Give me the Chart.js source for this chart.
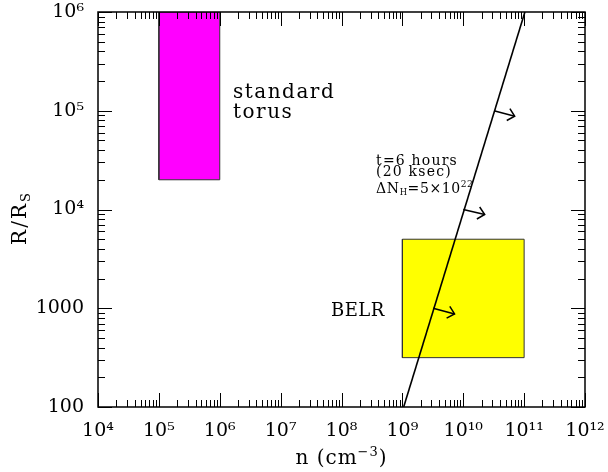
<!DOCTYPE html>
<html><head><meta charset="utf-8">
<script src="https://cdn.jsdelivr.net/npm/chart.js@4/dist/chart.umd.min.js"></script>
<style>html,body{margin:0;padding:0;background:#fff}#wrap{width:608px;height:472px;position:relative}</style>
</head><body><div id="wrap"><canvas id="c"></canvas></div>
<script>
// ---- data ----
const torusN = [1e5, 1e6, 1e6, 1e5, 1e5];
const torusR = [2e4, 2e4, 1e6, 1e6, 2e4];
const belrN = [1e9, 1e11, 1e11, 1e9, 1e9];
const belrR = [316, 316, 5000, 5000, 316];
const limitN = [1.05e9, 1.03e11];
const limitR = [100, 1e6];
const arrowStartN = [3.2e10, 1e10, 3.2e9];
const arrowStartR = [1e5, 1e4, 1e3];
const arrowEndN = [7e10, 2.25e10, 7.2e9];
const arrowEndR = [8.8e4, 8.9e3, 875];
const xTickValues = [1e4, 1e5, 1e6, 1e7, 1e8, 1e9, 1e10, 1e11, 1e12];
const xTickLabels = ['10⁴', '10⁵', '10⁶', '10⁷', '10⁸', '10⁹', '10¹⁰', '10¹¹', '10¹²'];
const yTickValues = [100, 1000, 1e4, 1e5, 1e6];
const yTickLabels = ['100', '1000', '10⁴', '10⁵', '10⁶'];

const FONT = '"DejaVu Serif", "Liberation Serif", serif';

function pts(xs, ys) { return xs.map((x, i) => ({x: x, y: ys[i]})); }

const datasets = [];
datasets.push({data: pts(limitN, limitR), showLine: true, borderColor: '#000', borderWidth: 1.6, pointRadius: 0, fill: false, order: 1});
for (let i = 0; i < arrowStartN.length; i++) {
  datasets.push({data: pts([arrowStartN[i], arrowEndN[i]], [arrowStartR[i], arrowEndR[i]]), showLine: true,
    borderColor: '#000', borderWidth: 1.5, pointRadius: 0, fill: false, order: 1, isArrow: true});
}
datasets.push({data: pts(belrN, belrR), showLine: true, borderColor: '#333', borderWidth: 1, backgroundColor: '#ffff00', pointRadius: 0, fill: 'shape', order: 5});
datasets.push({data: pts(torusN, torusR), showLine: true, borderColor: '#333', borderWidth: 1, backgroundColor: '#ff00ff', pointRadius: 0, fill: 'shape', order: 5});

function drawRich(ctx, x, y, parts, base, spacing) {
  let cx = x;
  for (const p of parts) {
    ctx.font = (base * p[1]) + 'px ' + FONT;
    ctx.letterSpacing = (spacing || 0) + 'px';
    ctx.fillText(p[0], cx, y + (p[2] || 0));
    cx += ctx.measureText(p[0]).width;
  }
  return cx - x;
}

const annotations = [
  {n: 1.65e6, r: 1.35e5, size: 20, sp: 1.5, parts: [['standard', 1]]},
  {n: 1.65e6, r: 8.45e4, size: 20, sp: 1.5, parts: [['torus', 1]]},
  {n: 6.7e7, r: 836, size: 18, sp: 0.5, parts: [['BELR', 1]]},
  {n: 3.7e8, r: 2.82e4, size: 14, sp: 1.2, parts: [['t=6 hours', 1]]},
  {n: 3.7e8, r: 2.18e4, size: 14, sp: 1.2, parts: [['(20 ksec)', 1]]},
  {n: 3.7e8, r: 1.47e4, size: 14, sp: 0.6, parts: [['ΔN', 1], ['H', 0.6, 2], ['=5×10', 1], ['22', 0.65, -6]]}
];

const framePlugin = {
  id: 'frame',
  afterDatasetsDraw(chart) {
    const ctx = chart.ctx, a = chart.chartArea, xs = chart.scales.x, ys = chart.scales.y;
    ctx.save();
    // arrowheads
    chart.data.datasets.forEach((ds, i) => {
      if (!ds.isArrow) return;
      const m = chart.getDatasetMeta(i);
      const p0 = m.data[0], p1 = m.data[1];
      const ang = Math.atan2(p1.y - p0.y, p1.x - p0.x);
      ctx.strokeStyle = '#000'; ctx.lineWidth = 1.5;
      ctx.beginPath();
      ctx.moveTo(p1.x - 9 * Math.cos(ang - 0.75), p1.y - 9 * Math.sin(ang - 0.75));
      ctx.lineTo(p1.x, p1.y);
      ctx.lineTo(p1.x - 9 * Math.cos(ang + 0.75), p1.y - 9 * Math.sin(ang + 0.75));
      ctx.stroke();
    });
    // frame
    ctx.strokeStyle = '#000'; ctx.lineWidth = 1.5;
    ctx.strokeRect(a.left, a.top, a.right - a.left, a.bottom - a.top);
    // tick marks on all four sides
    ctx.lineWidth = 1;
    ctx.beginPath();
    for (let d = 4; d <= 12; d++) {
      for (let m = 1; m <= 9; m++) {
        const v = m * Math.pow(10, d);
        if (v > 1e12 * 1.0001) break;
        const px = Math.round(xs.getPixelForValue(v)) + 0.5;
        const len = m === 1 ? 14 : 7;
        ctx.moveTo(px, a.bottom); ctx.lineTo(px, a.bottom - len);
        ctx.moveTo(px, a.top); ctx.lineTo(px, a.top + len);
      }
    }
    for (let d = 2; d <= 6; d++) {
      for (let m = 1; m <= 9; m++) {
        const v = m * Math.pow(10, d);
        if (v > 1e6 * 1.0001) break;
        const py = Math.round(ys.getPixelForValue(v)) + 0.5;
        const len = m === 1 ? 14 : 7;
        ctx.moveTo(a.left, py); ctx.lineTo(a.left + len, py);
        ctx.moveTo(a.right, py); ctx.lineTo(a.right - len, py);
      }
    }
    ctx.stroke();
    // annotations
    ctx.fillStyle = '#000';
    ctx.textBaseline = 'alphabetic';
    ctx.textAlign = 'left';
    for (const t of annotations) {
      drawRich(ctx, xs.getPixelForValue(t.n), ys.getPixelForValue(t.r), t.parts, t.size, t.sp);
    }
    // axis titles
    const xt = [['n (cm', 1], ['−3', 0.65, -8], [')', 1]];
    let w = 0;
    for (const p of xt) { ctx.font = (20 * p[1]) + 'px ' + FONT; ctx.letterSpacing = '1px'; w += ctx.measureText(p[0]).width; }
    drawRich(ctx, (a.left + a.right) / 2 - w / 2, 464, xt, 20, 1);
    ctx.save();
    ctx.translate(26, 218);
    ctx.rotate(-Math.PI / 2);
    const yt = [['R/R', 1], ['S', 0.65, 4]];
    let w2 = 0;
    for (const p of yt) { ctx.font = (20 * p[1]) + 'px ' + FONT; ctx.letterSpacing = '2px'; w2 += ctx.measureText(p[0]).width; }
    drawRich(ctx, -w2 / 2, 0, yt, 20, 2);
    ctx.restore();
    ctx.restore();
  }
};

new Chart(document.getElementById('c'), {
  type: 'scatter',
  data: {datasets: datasets},
  options: {
    responsive: true, maintainAspectRatio: false, animation: false,
    layout: {padding: {top: 12, right: 23, left: 0, bottom: 0}},
    plugins: {legend: {display: false}, tooltip: {enabled: false}},
    scales: {
      x: {
        type: 'logarithmic', min: 1e4, max: 1e12,
        grid: {display: false, drawTicks: false, tickLength: 0},
        border: {display: false},
        afterBuildTicks: s => { s.ticks = xTickValues.map(v => ({value: v})); },
        afterFit: s => { s.height = 65; s.paddingLeft = 0; s.paddingRight = 0; s.paddingTop = 0; s.paddingBottom = 0; },
        ticks: {autoSkip: false, maxRotation: 0, padding: 13, color: '#000', font: {family: FONT, size: 19},
          callback: (v) => { const i = xTickValues.findIndex(t => Math.abs(t - v) / t < 1e-6); return i >= 0 ? xTickLabels[i] : ''; }}
      },
      y: {
        type: 'logarithmic', min: 100, max: 1e6,
        grid: {display: false, drawTicks: false, tickLength: 0},
        border: {display: false},
        afterBuildTicks: s => { s.ticks = yTickValues.map(v => ({value: v})); },
        afterFit: s => { s.width = 98; s.paddingLeft = 0; s.paddingRight = 0; s.paddingTop = 0; s.paddingBottom = 0; },
        ticks: {autoSkip: false, padding: 14, color: '#000', font: {family: FONT, size: 19},
          callback: (v) => { const i = yTickValues.findIndex(t => Math.abs(t - v) / t < 1e-6); return i >= 0 ? yTickLabels[i] : ''; }}
      }
    }
  },
  plugins: [framePlugin]
});
</script>
</body></html>
